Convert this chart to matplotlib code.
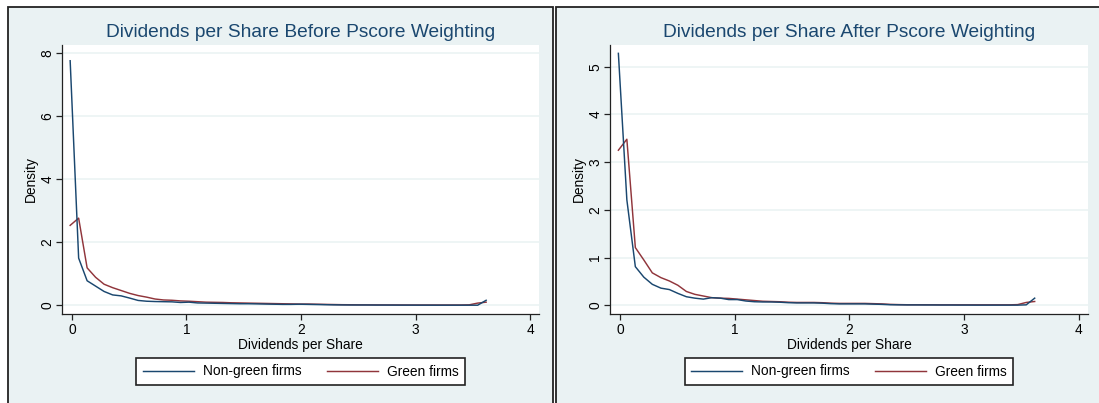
import matplotlib
matplotlib.use("Agg")
import matplotlib.pyplot as plt
from matplotlib.patches import Rectangle
from matplotlib.lines import Line2D

plt.rcParams['font.family'] = ['Liberation Sans', 'DejaVu Sans']

# ---- data ----
dps_grid = [-0.015, 0.059, 0.133, 0.207, 0.281, 0.356, 0.430, 0.504, 0.578, 0.652,
            0.726, 0.800, 0.874, 0.948, 1.022, 1.097, 1.171, 1.245, 1.319, 1.393,
            1.467, 1.541, 1.615, 1.689, 1.763, 1.838, 1.912, 1.986, 2.060, 2.134,
            2.208, 2.282, 2.356, 2.430, 2.504, 2.579, 2.653, 2.727, 2.801, 2.875,
            2.949, 3.023, 3.097, 3.171, 3.245, 3.320, 3.394, 3.468, 3.542, 3.616]

nongreen_before = [7.77, 1.50, 0.78, 0.61, 0.44, 0.33, 0.30, 0.23, 0.155, 0.13,
                   0.12, 0.115, 0.11, 0.09, 0.10, 0.075, 0.07, 0.065, 0.06, 0.055,
                   0.05, 0.05, 0.045, 0.04, 0.035, 0.03, 0.03, 0.035, 0.03, 0.025,
                   0.02, 0.015, 0.012, 0.01, 0.01, 0.01, 0.008, 0.008, 0.007, 0.006,
                   0.006, 0.005, 0.005, 0.004, 0.004, 0.004, 0.004, 0.004, 0.003, 0.16]
green_before = [2.54, 2.77, 1.19, 0.89, 0.67, 0.56, 0.47, 0.38, 0.31, 0.26,
                0.20, 0.17, 0.16, 0.14, 0.13, 0.115, 0.10, 0.095, 0.09, 0.08,
                0.075, 0.07, 0.065, 0.06, 0.055, 0.05, 0.045, 0.04, 0.04, 0.035,
                0.03, 0.025, 0.02, 0.018, 0.015, 0.014, 0.013, 0.012, 0.012, 0.011,
                0.01, 0.01, 0.01, 0.01, 0.01, 0.01, 0.01, 0.015, 0.07, 0.10]

nongreen_after = [5.28, 2.21, 0.81, 0.59, 0.44, 0.36, 0.33, 0.25, 0.18, 0.15,
                  0.13, 0.16, 0.15, 0.12, 0.12, 0.09, 0.075, 0.07, 0.07, 0.065,
                  0.055, 0.05, 0.05, 0.05, 0.045, 0.035, 0.03, 0.03, 0.03, 0.03,
                  0.025, 0.02, 0.012, 0.01, 0.008, 0.008, 0.007, 0.007, 0.006, 0.006,
                  0.005, 0.005, 0.004, 0.004, 0.004, 0.004, 0.004, 0.004, 0.01, 0.15]
green_after = [3.25, 3.48, 1.21, 0.95, 0.68, 0.58, 0.51, 0.42, 0.29, 0.23,
               0.195, 0.16, 0.15, 0.145, 0.13, 0.115, 0.10, 0.085, 0.08, 0.075,
               0.065, 0.06, 0.06, 0.06, 0.055, 0.045, 0.04, 0.04, 0.04, 0.04,
               0.035, 0.03, 0.02, 0.015, 0.012, 0.012, 0.012, 0.011, 0.01, 0.01,
               0.01, 0.01, 0.01, 0.01, 0.01, 0.01, 0.01, 0.015, 0.06, 0.08]

titles = ["Dividends per Share Before Pscore Weighting",
          "Dividends per Share After Pscore Weighting"]
series_labels = ["Non-green firms", "Green firms"]
x_ticks = [0, 1, 2, 3, 4]
y_ticks_before = [0, 2, 4, 6, 8]
y_ticks_after = [0, 1, 2, 3, 4, 5]

# ---- style ----
BG = '#EAF2F3'
NAVY = '#1a476f'
MAROON = '#90353b'
W, H = 1099, 403

fig = plt.figure(figsize=(W / 100, H / 100), dpi=100)
fig.patch.set_facecolor('white')

def px_rect(x0, y0, x1, y1):
    return (x0 / W, 1 - y1 / H, (x1 - x0) / W, (y1 - y0) / H)

# panel backgrounds and frames
for (x0, x1) in [(7.5, 553.0), (556.0, 1105.0)]:
    l, b, w, h = px_rect(x0, 6.5, x1, 410)
    fig.patches.append(Rectangle((l, b), w, h, transform=fig.transFigure,
                                 facecolor=BG, edgecolor='#222222', lw=1.3, zorder=-5))

panels = [
    dict(xpix=(61.8, 539.3), ylim=(-0.276, 8.27), yticks=y_ticks_before,
         ng=nongreen_before, g=green_before, title=titles[0]),
    dict(xpix=(610.0, 1087.9), ylim=(-0.182, 5.455), yticks=y_ticks_after,
         ng=nongreen_after, g=green_after, title=titles[1]),
]

FS = 9.9
for p in panels:
    ax = fig.add_axes(px_rect(p['xpix'][0], 45, p['xpix'][1], 314))
    ax.set_zorder(2)
    ax.set_facecolor('white')
    ax.set_xlim(-0.088, 4.08)
    ax.set_ylim(*p['ylim'])
    for yv in p['yticks']:
        ax.axhline(yv, color=BG, lw=1.1, zorder=1)
    ax.plot(dps_grid, p['ng'], color=NAVY, lw=1.05, zorder=3, label=series_labels[0])
    ax.plot(dps_grid, p['g'], color=MAROON, lw=1.05, zorder=2, label=series_labels[1])
    ax.set_xticks(x_ticks)
    ax.set_yticks(p['yticks'])
    ax.set_yticklabels([str(v) for v in p['yticks']], rotation=90, va='center')
    ax.tick_params(axis='both', direction='out', length=4.5, width=0.9,
                   color='#222222', labelsize=FS, labelcolor='black')
    ax.tick_params(axis='y', pad=1)
    ax.tick_params(axis='x', pad=2)
    for s in ['top', 'right']:
        ax.spines[s].set_visible(False)
    for s in ['left', 'bottom']:
        ax.spines[s].set_color('#222222')
        ax.spines[s].set_linewidth(0.9)
    ax.set_xlabel("Dividends per Share", fontsize=FS, labelpad=1)
    ax.set_ylabel("Density", fontsize=FS, labelpad=1.5)
    ax.set_title(p['title'], fontsize=13.8, color=NAVY, pad=6)

    cx = (p['xpix'][0] + p['xpix'][1]) / 2 / W
    handles = [Line2D([], [], color=NAVY, lw=1.05), Line2D([], [], color=MAROON, lw=1.05)]
    leg = fig.legend(handles, series_labels, loc='center', bbox_to_anchor=(cx, 1 - 371.5 / H),
                     ncol=2, fontsize=FS, frameon=True, fancybox=False,
                     handlelength=3.72, handletextpad=0.66, columnspacing=1.83,
                     borderpad=0.45, borderaxespad=0)
    fr = leg.get_frame()
    fr.set_edgecolor('#222222')
    fr.set_linewidth(1.2)
    fr.set_facecolor('white')
    fr.set_alpha(1)

fig.savefig('out.png', dpi=100, facecolor=fig.get_facecolor())
